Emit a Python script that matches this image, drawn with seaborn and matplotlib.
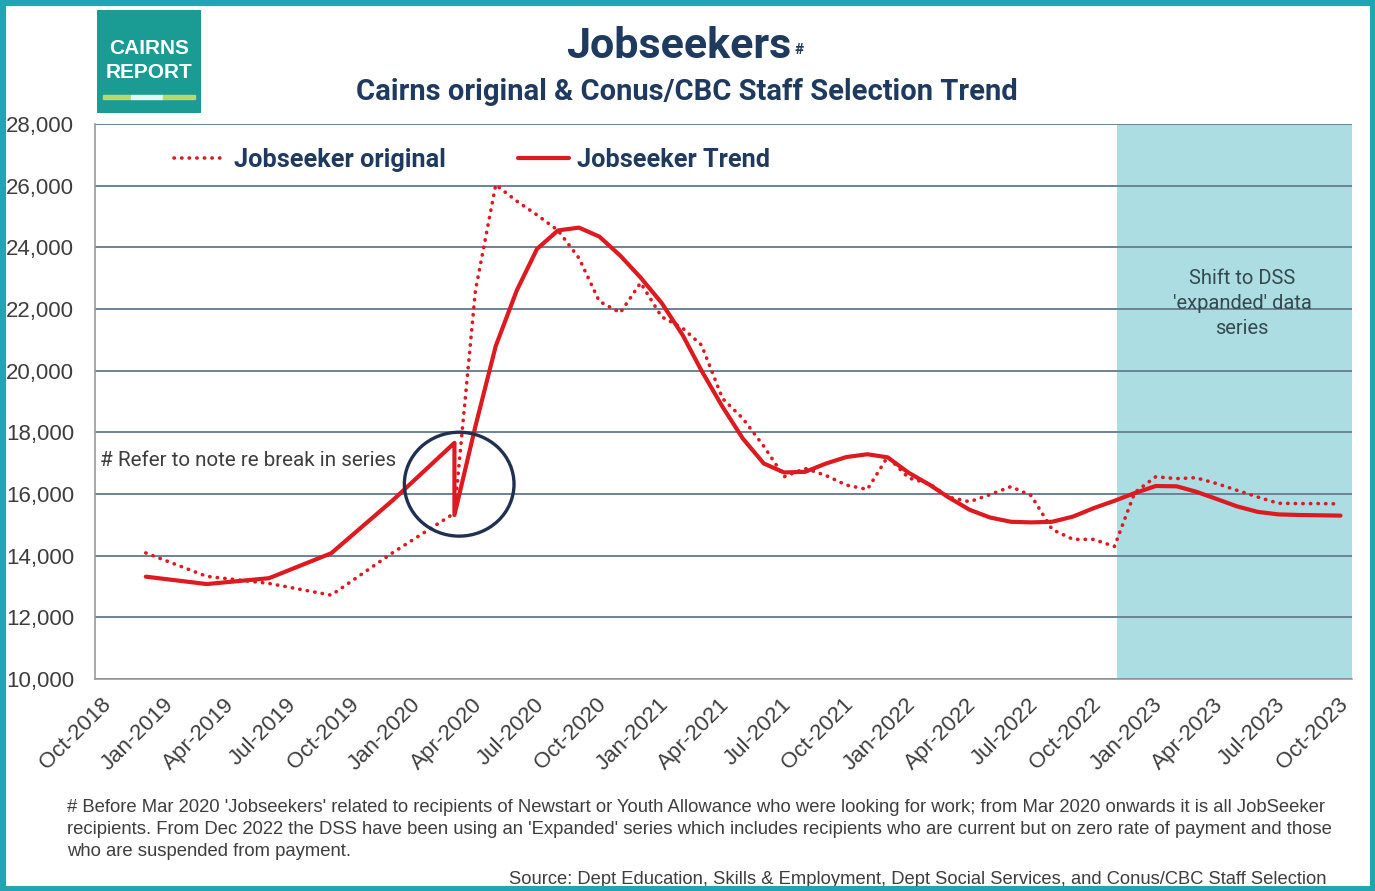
import pandas as pd
import seaborn as sns
import matplotlib.pyplot as plt
import matplotlib.dates as mdates
import matplotlib.transforms as mtransforms
from matplotlib.patches import Ellipse, Rectangle
from matplotlib.ticker import FuncFormatter

# Jobseekers, Cairns - quarterly to Mar 2020, monthly after
orig_months = ['2018-12', '2019-03', '2019-06', '2019-09', '2019-12', '2020-03',
               '2020-04', '2020-05', '2020-06', '2020-07', '2020-08', '2020-09',
               '2020-10', '2020-11', '2020-12', '2021-01', '2021-02', '2021-03',
               '2021-04', '2021-05', '2021-06', '2021-07', '2021-08', '2021-09',
               '2021-10', '2021-11', '2021-12', '2022-01', '2022-02', '2022-03',
               '2022-04', '2022-05', '2022-06', '2022-07', '2022-08', '2022-09',
               '2022-10', '2022-11', '2022-12', '2023-01', '2023-02', '2023-03',
               '2023-04', '2023-05', '2023-06', '2023-07', '2023-08', '2023-09',
               '2023-10']
orig_values = [14090, 13330, 13100, 12720, 14100, 15380,
               22600, 26030, 25500, 25050, 24550, 23650,
               22250, 21880, 22850, 21750, 21380, 20830,
               19100, 18450, 17550, 16560, 16830, 16600,
               16290, 16150, 17210, 16520, 16330, 15900,
               15750, 15980, 16240, 15950, 14850, 14530,
               14530, 14300, 16050, 16560, 16500, 16530,
               16340, 16120, 15900, 15700, 15690, 15690,
               15680]

# trend has two values for Mar 2020 (old basis, then new basis)
trend_months = ['2018-12', '2019-03', '2019-06', '2019-09', '2019-12', '2020-03',
                '2020-03', '2020-04', '2020-05', '2020-06', '2020-07', '2020-08',
                '2020-09', '2020-10', '2020-11', '2020-12', '2021-01', '2021-02',
                '2021-03', '2021-04', '2021-05', '2021-06', '2021-07', '2021-08',
                '2021-09', '2021-10', '2021-11', '2021-12', '2022-01', '2022-02',
                '2022-03', '2022-04', '2022-05', '2022-06', '2022-07', '2022-08',
                '2022-09', '2022-10', '2022-11', '2022-12', '2023-01', '2023-02',
                '2023-03', '2023-04', '2023-05', '2023-06', '2023-07', '2023-08',
                '2023-09', '2023-10']
trend_values = [13320, 13080, 13270, 14080, 15800, 17660,
                15320, 18200, 20800, 22600, 23950, 24550,
                24640, 24350, 23730, 23020, 22200, 21160,
                20000, 18830, 17800, 16990, 16700, 16720,
                16990, 17200, 17290, 17190, 16690, 16300,
                15890, 15490, 15240, 15100, 15080, 15100,
                15270, 15540, 15780, 16030, 16260, 16250,
                16080, 15840, 15600, 15420, 15340, 15320,
                15310, 15300]

navy = '#1f3a5f'
red = '#dc1a1f'
grey_txt = '#3d3d3d'
arial = ['Liberation Sans', 'DejaVu Sans']

sns.set_style('white')
plt.rcParams['font.family'] = ['Roboto', 'DejaVu Sans']

# monthly values sit mid-month on the date axis
df_orig = pd.DataFrame({'month': pd.to_datetime(orig_months) + pd.Timedelta(days=14),
                        'value': orig_values})
df_trend = pd.DataFrame({'month': pd.to_datetime(trend_months) + pd.Timedelta(days=14),
                         'value': trend_values})

fig = plt.figure(figsize=(13.75, 8.91), dpi=100)
ax = fig.add_axes([0.0691, 0.2379, 0.9142, 0.6229])

ax.axvspan(pd.Timestamp('2022-11-19'), pd.Timestamp('2023-11-01'),
           color='#acdde2', zorder=0.3, lw=0)

sns.lineplot(data=df_orig, x='month', y='value', ax=ax, color=red, lw=2.6,
             linestyle=(0, (0.1, 2.0)), dash_capstyle='round', estimator=None,
             sort=False, label='Jobseeker original', zorder=3)
sns.lineplot(data=df_trend, x='month', y='value', ax=ax, color=red, lw=3.0,
             estimator=None, sort=False, label='Jobseeker Trend', zorder=3)

ax.set_xlim(pd.Timestamp('2018-10-01'), pd.Timestamp('2023-11-01'))
ax.set_ylim(10000, 28000)
ax.set_yticks(range(10000, 28001, 2000))
ax.yaxis.set_major_formatter(FuncFormatter(lambda v, p: f'{int(v):,}'))
ax.xaxis.set_major_locator(mdates.MonthLocator(bymonth=[1, 4, 7, 10]))
ax.xaxis.set_major_formatter(mdates.DateFormatter('%b-%Y'))
ax.set_xlabel('')
ax.set_ylabel('')

ax.set_axisbelow(True)
ax.grid(axis='y', color='#6d8296', lw=1.4)
ax.grid(axis='x', visible=False)
for s in ['top', 'right']:
    ax.spines[s].set_visible(False)
for s in ['left', 'bottom']:
    ax.spines[s].set_color('#9a9a9a')
    ax.spines[s].set_linewidth(1.2)
ax.tick_params(axis='both', direction='out', length=5, color='#9a9a9a',
               colors=grey_txt, labelcolor=grey_txt)
ax.tick_params(axis='y', labelsize=16, pad=10)
ax.tick_params(axis='x', labelsize=16, pad=6)
shift = mtransforms.ScaledTranslation(6 / 100, 0, fig.dpi_scale_trans)
for lab in ax.get_xticklabels():
    lab.set_rotation(45)
    lab.set_ha('right')
    lab.set_va('top')
    lab.set_rotation_mode('anchor')
    lab.set_family(arial)
    lab.set_transform(lab.get_transform() + shift)
for lab in ax.get_yticklabels():
    lab.set_family(arial)

ax.legend(loc='center left', bbox_to_anchor=(0.045, 0.935), ncol=2, frameon=False,
          prop={'weight': 'bold', 'size': 18.2}, labelcolor=navy,
          handlelength=2.05, handletextpad=0.3, columnspacing=2.85)

# circle round the break in series
ax.add_patch(Ellipse((mdates.date2num(pd.Timestamp('2020-03-22')), 16320),
                     width=162, height=3370, fill=False, ec='#1f3050', lw=2.4, zorder=4))
ax.text(0.004, 0.3946, '# Refer to note re break in series', transform=ax.transAxes,
        fontsize=14.9, color=grey_txt, va='center', ha='left')
ax.text(0.9125, 0.6775, "Shift to DSS\n'expanded' data\nseries", transform=ax.transAxes,
        fontsize=14.5, color='#34494d', va='center', ha='center', linespacing=1.4)

# titles
fig.text(0.4935, 0.948, 'Jobseekers', fontsize=31, weight='bold', color=navy,
         ha='center', va='center')
fig.text(0.5775, 0.944, '#', fontsize=11, weight='bold', color=navy, ha='left', va='center')
fig.text(0.4996, 0.8967, 'Cairns original & Conus/CBC Staff Selection Trend', fontsize=21,
         weight='bold', color=navy, ha='center', va='center')

# logo
logo = fig.add_axes([97 / 1375, 1 - 113 / 891, 104 / 1375, 103 / 891])
logo.set_xlim(0, 104)
logo.set_ylim(103, 0)
logo.axis('off')
logo.add_patch(Rectangle((0, 0), 104, 103, color='#1a9c95'))
logo.text(52, 39, 'CAIRNS', color='white', weight='bold', fontsize=15, ha='center',
          va='center', family=arial)
logo.text(52, 62, 'REPORT', color='white', weight='bold', fontsize=15, ha='center',
          va='center', family=arial)
logo.add_patch(Rectangle((6, 85), 28, 4, color='#b7d86b'))
logo.add_patch(Rectangle((34, 85), 32, 4, color='#e6f4f2'))
logo.add_patch(Rectangle((66, 85), 32, 4, color='#b7d86b'))

# footnotes
note = ["# Before Mar 2020 'Jobseekers' related to recipients of Newstart or Youth Allowance who were looking for work; from Mar 2020 onwards it is all JobSeeker",
        "recipients. From Dec 2022 the DSS have been using an 'Expanded' series which includes recipients who are current but on zero rate of payment and those",
        "who are suspended from payment."]
for i, line in enumerate(note):
    fig.text(0.0487, 1 - (807 + 22.5 * i) / 891, line, fontsize=13.3, color=grey_txt,
             ha='left', va='center', family=arial)
fig.text(0.965, 1 - 879 / 891,
         'Source: Dept Education, Skills & Employment, Dept Social Services, and Conus/CBC Staff Selection',
         fontsize=13.2, color=grey_txt, ha='right', va='center', family=arial)

# outer teal frame
fig.patches.append(Rectangle((0, 0), 1, 1, transform=fig.transFigure, fill=False,
                             ec='#1fa6b0', lw=8, zorder=10))

fig.savefig('out.png', dpi=100)
